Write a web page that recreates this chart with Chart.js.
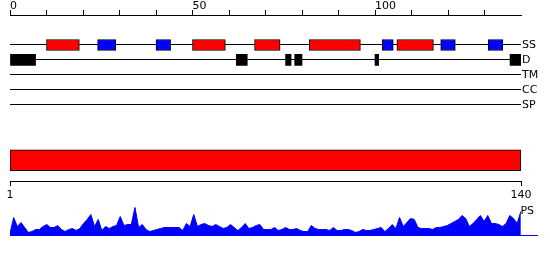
<!DOCTYPE html>
<html><head><meta charset="utf-8">
<script src="https://cdn.jsdelivr.net/npm/chart.js@4/dist/chart.umd.min.js"></script>
<style>
html,body{margin:0;padding:0;background:#fff;}
#wrap{position:relative;width:550px;height:260px;overflow:hidden;background:#fff;}
canvas{position:absolute;left:0;}
</style></head><body>
<div id="wrap">
<canvas id="tracks" width="550" height="120" style="top:0px"></canvas>
<canvas id="domain" width="550" height="70" style="top:135px"></canvas>
<canvas id="ps" width="550" height="40" style="top:200px"></canvas>
</div>
<script>
// ---- data ----
const trackLabels = ['SS', 'D', 'TM', 'CC', 'SP'];
const topTickLabels = [0, 50, 100];
const helixRanges = [[10, 19], [50, 59], [67, 74], [82, 96], [106, 116]];
const strandRanges = [[24, 29], [40, 44], [102, 105], [118, 122], [131, 135]];
const disorderRanges = [[0, 7], [62, 65], [75.5, 77], [78, 80], [100, 101], [137, 140]];
const domainRanges = [[1, 140]];
const domainTicks = [1, 140];
const psLabel = 'PS';
const psValues = [
  2, 18, 9, 13, 8, 3, 4, 6, 6, 9,
  11, 8, 8, 10, 6, 4, 6, 7, 5, 7,
  12, 16, 21, 9, 16, 5, 9, 7, 9, 10,
  19, 10, 11, 11, 28, 8, 11, 6, 4, 5,
  6, 7, 8, 8, 8, 8, 8, 5, 12, 9,
  21, 9, 11, 12, 10, 9, 11, 9, 7, 8,
  11, 8, 5, 8, 12, 7, 8, 10, 11, 6,
  6, 6, 8, 5, 6, 8, 6, 6, 7, 5,
  4, 4, 10, 7, 6, 6, 6, 5, 8, 5,
  5, 6, 6, 5, 3, 4, 6, 5, 5, 6,
  7, 8, 4, 7, 11, 7, 18, 9, 13, 17,
  16, 8, 7, 7, 7, 6, 8, 8, 9, 10,
  12, 14, 16, 20, 17, 9, 12, 16, 20, 14,
  20, 12, 12, 11, 9, 12, 20, 17, 12, 24
];

// ---- defaults ----
Chart.defaults.font.family = "'DejaVu Sans', sans-serif";
Chart.defaults.font.size = 11;
Chart.defaults.color = '#000';
Chart.defaults.animation = false;
Chart.defaults.events = [];
Chart.defaults.plugins.legend.display = false;
Chart.defaults.plugins.tooltip.enabled = false;

function trackBars(ranges, track, color, bw) {
  return {
    data: ranges.map(r => ({ x: r, y: trackLabels.indexOf(track) })),
    backgroundColor: color,
    borderColor: '#000',
    borderWidth: bw,
    borderSkipped: false,
    barThickness: 11,
    grouped: false
  };
}

// ---- feature tracks with top ruler ----
new Chart(document.getElementById('tracks'), {
  type: 'bar',
  data: {
    datasets: [
      trackBars(helixRanges, 'SS', '#ff0000', 1),
      trackBars(strandRanges, 'SS', '#0000ff', 1),
      trackBars(disorderRanges, 'D', '#000000', 0)
    ]
  },
  options: {
    responsive: false,
    devicePixelRatio: 1,
    indexAxis: 'y',
    layout: { padding: { left: 10, right: 0, top: 0, bottom: 7.5 } },
    scales: {
      x: {
        type: 'linear', position: 'top', min: 0, max: 140,
        afterBuildTicks: s => { s.ticks = s.ticks.filter(t => t.value < 140); },
        afterFit: s => { s.height = 15; },
        ticks: {
          stepSize: 10, autoSkip: false, maxRotation: 0, align: 'start', padding: -3,
          callback: v => topTickLabels.includes(v) ? String(v) : ''
        },
        grid: { drawOnChartArea: false, tickLength: 5, color: '#000' },
        border: { color: '#000', width: 1 }
      },
      y: {
        type: 'linear', position: 'right', reverse: true, min: -2, max: 4.5,
        offset: false,
        afterBuildTicks: s => { s.ticks = trackLabels.map((_, i) => ({ value: i })); },
        afterFit: s => { s.width = 29; },
        ticks: { padding: 1, callback: v => trackLabels[v] },
        grid: { offset: false, drawTicks: false, color: '#000', lineWidth: 1 },
        border: { display: false }
      }
    }
  }
});

// ---- domain bar with bottom ruler ----
new Chart(document.getElementById('domain'), {
  type: 'bar',
  data: {
    labels: ['domain'],
    datasets: [{
      data: domainRanges,
      backgroundColor: '#ff0000',
      borderColor: '#000',
      borderWidth: 1,
      borderSkipped: false,
      barThickness: 21
    }]
  },
  options: {
    responsive: false,
    devicePixelRatio: 1,
    indexAxis: 'y',
    layout: { padding: { left: 10, right: 29, top: 4.5, bottom: 0 } },
    scales: {
      x: {
        type: 'linear', position: 'bottom', min: 1, max: 140,
        afterBuildTicks: s => { s.ticks = domainTicks.map(v => ({ value: v })); },
        afterFit: s => { s.height = 24; },
        ticks: { maxRotation: 0, autoSkip: false, padding: 3 },
        grid: { drawOnChartArea: false, tickLength: 5, color: '#000' },
        border: { color: '#000', width: 1 }
      },
      y: { display: false }
    }
  }
});

// ---- PS profile ----
new Chart(document.getElementById('ps'), {
  type: 'line',
  data: {
    datasets: [{
      data: psValues.map((v, i) => ({ x: i + 1, y: v })),
      fill: 'origin',
      backgroundColor: '#0000ff',
      borderColor: '#0000ff',
      borderWidth: 1,
      pointRadius: 0,
      tension: 0
    }]
  },
  options: {
    responsive: false,
    devicePixelRatio: 1,
    layout: { padding: { left: 10, right: 13, top: 5.5, bottom: 4.5 } },
    scales: {
      x: {
        type: 'linear', min: 1, max: 144.4,
        afterFit: s => { s.height = 0; },
        ticks: { display: false },
        grid: { display: false, drawTicks: false },
        border: { color: '#0000ff', width: 1 }
      },
      y: {
        type: 'linear', position: 'right', min: 0, max: 30,
        afterBuildTicks: s => { s.ticks = [{ value: 24.5 }]; },
        afterFit: s => { s.width = 0; },
        ticks: { mirror: true, padding: -3, callback: () => psLabel },
        grid: { display: false, drawTicks: false },
        border: { display: false }
      }
    }
  }
});
</script>
</body></html>
